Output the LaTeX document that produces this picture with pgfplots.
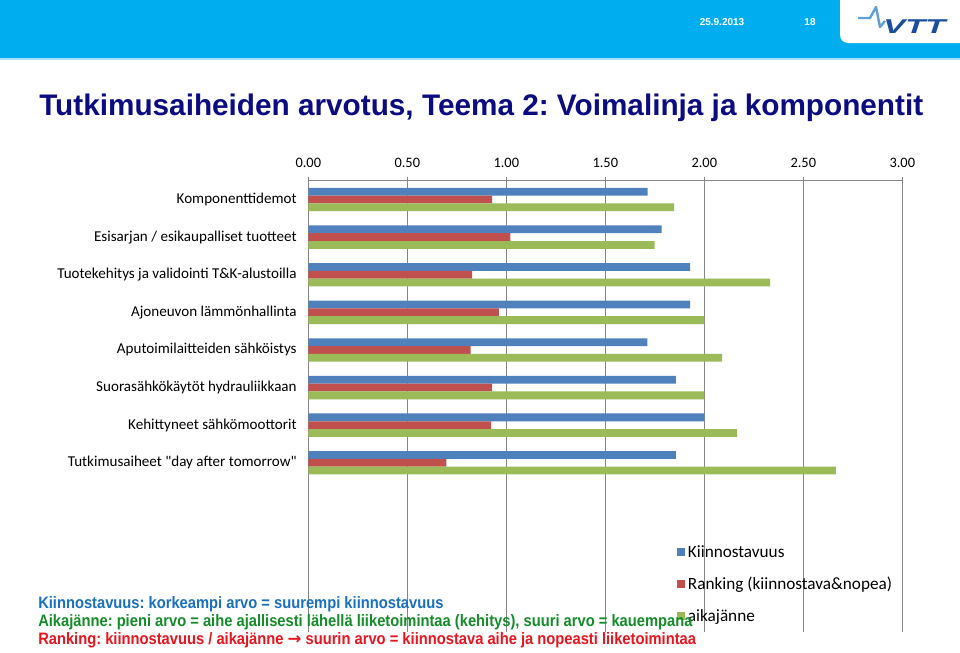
\documentclass[border=0pt]{standalone}
\usepackage{pgfplots}
\pgfplotsset{compat=1.18}
\usepackage{fontspec}
\setmainfont{Carlito}[Ligatures=TeXOff]
\newfontfamily\arial{Liberation Sans}
\newfontfamily\narrow[FakeStretch=0.89]{Liberation Sans}
\newfontfamily\dejavu{DejaVu Sans}
\definecolor{xlblue}{RGB}{79,129,189}
\definecolor{xlred}{RGB}{192,80,77}
\definecolor{xlgreen}{RGB}{155,187,89}
\definecolor{gridgray}{RGB}{134,134,134}
\definecolor{vttcyan}{RGB}{0,174,239}
\definecolor{titleblue}{RGB}{12,12,130}
\definecolor{vttdark}{RGB}{28,78,158}
\definecolor{vttlight}{RGB}{95,160,215}
\definecolor{noteblue}{RGB}{25,112,192}
\definecolor{notegreen}{RGB}{20,140,40}
\definecolor{notered}{RGB}{232,20,30}
\frenchspacing
\begin{document}
\begin{tikzpicture}[x=0.75pt,y=0.75pt]
\useasboundingbox (0,0) rectangle (960,-653);
\fill[white] (0,0) rectangle (960,-653);
% header band
\fill[vttcyan] (0,0) rectangle (960,-58);
\fill[vttcyan!35] (0,-58) rectangle (960,-60);
\fill[white] (840,0) -- (840,-35) arc[start angle=180,end angle=270,radius=8] -- (960,-43) -- (960,0) -- cycle;
\draw[vttlight, line width=1.8pt, line join=round] (858,-18) -- (870,-18) -- (876,-7) -- (880,-27) -- (885,-21);
\node[anchor=west, inner sep=0pt, text=vttdark, font=\arial\bfseries\itshape\fontsize{15}{15}\selectfont] at (883,-26.5) {\scalebox{1.65}[1]{VTT}};
\node[white, font=\arial\bfseries\fontsize{7.5}{9}\selectfont] at (722,-22) {25.9.2013};
\node[white, font=\arial\bfseries\fontsize{7.5}{9}\selectfont] at (810,-22) {18};
% title
\node[anchor=west, inner sep=0pt, text=titleblue, font=\arial\bfseries\fontsize{22.3}{26}\selectfont] at (39,-108) {Tutkimusaiheiden arvotus, Teema 2: Voimalinja ja komponentit};
\begin{axis}[
  at={(231.225pt,-135.525pt)}, anchor=north west, scale only axis,
  width=445.5pt, height=338.5pt,
  xmin=0, xmax=3, ymin=-0.5, ymax=11.5,
  axis x line*=top, axis y line*=left,
  axis line style={gridgray, line width=0.75pt},
  xtick={0,0.5,...,3},
  xmajorgrids, grid style={gridgray, line width=0.75pt},
  ytick={4,...,11},
  yticklabels={Tutkimusaiheet "day after tomorrow", Kehittyneet sähkömoottorit, Suorasähkökäytöt hydrauliikkaan, Aputoimilaitteiden sähköistys, Ajoneuvon lämmönhallinta, Tuotekehitys ja validointi T\&K-alustoilla, Esisarjan / esikaupalliset tuotteet, Komponenttidemot},
  minor ytick={-0.5,0.5,...,11.5},
  tick align=outside,
  major tick length=3pt, minor tick length=3.75pt,
  ytick style={draw=none},
  xtick style={gridgray, line width=0.75pt},
  minor tick style={gridgray, line width=0.75pt},
  tick label style={font=\fontsize{10.8}{12}\selectfont},
  yticklabel style={font=\fontsize{11.3}{13}\selectfont, xshift=-2.2pt},
  xticklabel style={yshift=3.5pt, /pgf/number format/.cd, fixed, fixed zerofill, precision=2},
  /pgf/number format/assume math mode=true,
  xbar, bar width=5.85pt,
  legend style={at={(0.614,0.204)}, anchor=north west, draw=none, fill=none,
    font=\fontsize{12.9}{15}\selectfont, row sep=9.3pt},
  legend cell align=left,
  legend image code/.code={\draw[#1, draw=none] (0pt,-3pt) rectangle (6pt,3pt);},
]
\addplot[xbar, fill=xlblue, draw=none, bar shift=5.85pt] coordinates {
 (1.714,11) (1.785,10) (1.928,9) (1.928,8) (1.713,7) (1.857,6) (2.000,5) (1.857,4)};
\addplot[xbar, fill=xlred, draw=none, bar shift=0pt] coordinates {
 (0.928,11) (1.020,10) (0.827,9) (0.963,8) (0.820,7) (0.928,6) (0.923,5) (0.697,4)};
\addplot[xbar, fill=xlgreen, draw=none, bar shift=-5.85pt] coordinates {
 (1.847,11) (1.749,10) (2.333,9) (2.000,8) (2.090,7) (2.000,6) (2.166,5) (2.665,4)};
\legend{Kiinnostavuus, Ranking (kiinnostava\&nopea), aikajänne}
\end{axis}
% notes
\node[anchor=west, inner sep=0pt, text=noteblue, font=\narrow\bfseries\fontsize{12.4}{14}\selectfont] at (38,-604) {Kiinnostavuus: korkeampi arvo = suurempi kiinnostavuus};
\node[anchor=west, inner sep=0pt, text=notegreen, font=\narrow\bfseries\fontsize{12.4}{14}\selectfont] at (38,-622) {Aikajänne: pieni arvo = aihe ajallisesti lähellä liiketoimintaa (kehitys), suuri arvo = kauempana};
\node[anchor=west, inner sep=0pt, text=notered, font=\narrow\bfseries\fontsize{12.4}{14}\selectfont] at (38,-640) {Ranking: kiinnostavuus / aikajänne {\dejavu\bfseries →} suurin arvo = kiinnostava aihe ja nopeasti liiketoimintaa};
\end{tikzpicture}
\end{document}
